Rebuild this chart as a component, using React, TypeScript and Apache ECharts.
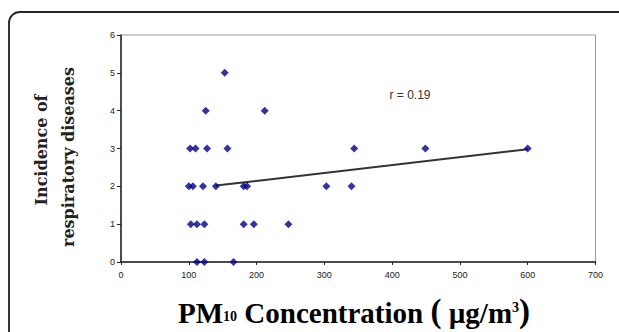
import React, { useEffect, useRef } from "react";
import * as echarts from "echarts";

const pm10 = [153, 125, 212, 102, 110, 127, 157, 344, 449, 600, 100, 106, 121, 140, 181, 186, 303, 340, 103, 112, 123, 181, 196, 247, 112, 123, 166];
const incidence = [5, 4, 4, 3, 3, 3, 3, 3, 3, 3, 2, 2, 2, 2, 2, 2, 2, 2, 1, 1, 1, 1, 1, 1, 0, 0, 0];
const trendX = [140, 600];
const trendY = [2.02, 2.98];
const xTicks = [0, 100, 200, 300, 400, 500, 600, 700];
const yTicks = [0, 1, 2, 3, 4, 5, 6];
const rLabel = "r = 0.19";

export default function App() {
  const ref = useRef<HTMLDivElement>(null);
  useEffect(() => {
    if (!ref.current) return;
    const chart = echarts.init(ref.current, null, { renderer: "svg" });
    const points = pm10.map((x, i) => [x, incidence[i]]);
    const trend = trendX.map((x, i) => [x, trendY[i]]);
    const tickFont = { fontFamily: "Liberation Sans", fontSize: 9, color: "#222" };
    chart.setOption({
      animation: false,
      backgroundColor: "#fff",
      grid: {
        left: 121, top: 35, right: 23.5, bottom: 70,
        show: true, borderColor: "#999", borderWidth: 1, containLabel: false,
      },
      xAxis: {
        type: "value", min: xTicks[0], max: xTicks[xTicks.length - 1], interval: 100,
        axisLine: { show: true, onZero: false, lineStyle: { color: "#222", width: 1.5 } },
        axisTick: { show: true, inside: false, length: 3, lineStyle: { color: "#222" } },
        axisLabel: { ...tickFont, margin: 8 },
        splitLine: { show: false },
      },
      yAxis: {
        type: "value", min: yTicks[0], max: yTicks[yTicks.length - 1], interval: 1,
        axisLine: { show: true, onZero: false, lineStyle: { color: "#222", width: 1.5 } },
        axisTick: { show: true, inside: false, length: 4, lineStyle: { color: "#222" } },
        axisLabel: { ...tickFont, margin: 6 },
        splitLine: { show: false },
      },
      series: [
        {
          type: "line", data: trend, symbol: "none",
          lineStyle: { color: "#333", width: 2 }, z: 2,
        },
        {
          type: "scatter", data: points, symbol: "diamond", symbolSize: 8,
          itemStyle: { color: "#00008b" }, z: 3,
        },
      ],
      graphic: [
        {
          type: "rect", silent: true,
          shape: { x: 9, y: 12, width: 700, height: 400, r: [11, 0, 0, 0] },
          style: { fill: "none", stroke: "#222", lineWidth: 1.8 },
        },
        {
          type: "text", x: 410, y: 95,
          style: { text: rLabel, font: "12px 'Liberation Sans'", fill: "#333", textAlign: "center", textVerticalAlign: "middle" },
        },
        {
          type: "text", x: 41, y: 150, rotation: Math.PI / 2,
          style: { text: "Incidence of", font: "bold 16px 'DejaVu Serif'", fill: "#222", textAlign: "center", textVerticalAlign: "middle" },
        },
        {
          type: "text", x: 68, y: 157, rotation: Math.PI / 2,
          style: { text: "respiratory diseases", font: "bold 16px 'DejaVu Serif'", fill: "#222", textAlign: "center", textVerticalAlign: "middle" },
        },
        {
          type: "text", x: 178, y: 327,
          style: {
            text: "{a|PM}{s|10}{a| Concentration }{p|(}{a| µg/m}{t|3}{p|)}",
            textAlign: "left", textVerticalAlign: "bottom",
            rich: {
              a: { fontFamily: "Liberation Serif", fontWeight: "bold", fontSize: 29, lineHeight: 30, color: "#111", verticalAlign: "bottom" },
              p: { fontFamily: "Liberation Serif", fontWeight: "bold", fontSize: 33, lineHeight: 30, color: "#111", verticalAlign: "bottom" },
              s: { fontFamily: "Liberation Serif", fontWeight: "bold", fontSize: 14, lineHeight: 14, color: "#111", verticalAlign: "bottom", padding: [0, 0, 4, 0] },
              t: { fontFamily: "Liberation Serif", fontWeight: "bold", fontSize: 14, lineHeight: 14, color: "#111", verticalAlign: "top", padding: [3, 0, 0, 0] },
            },
          },
        },
      ],
    });
    return () => chart.dispose();
  }, []);
  return <div ref={ref} style={{ position: "absolute", left: 0, top: 0, width: 619, height: 332 }} />;
}
